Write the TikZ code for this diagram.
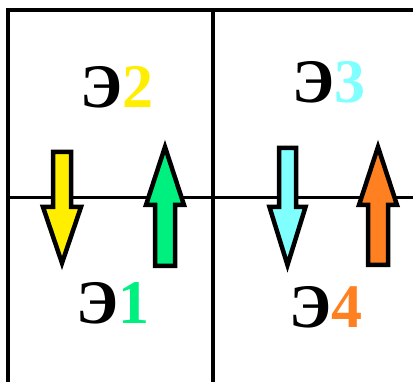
\documentclass[tikz,border=0pt]{standalone}
\usepackage{fontspec}
\setmainfont{Liberation Serif}
\definecolor{cyel}{HTML}{FFEE00}
\definecolor{cgreen}{HTML}{00F080}
\definecolor{ccyan}{HTML}{80FFFF}
\definecolor{corange}{HTML}{FF8020}
\tikzset{
  grid/.style={line width=4pt},
  arrowshape/.style={draw=black,line width=4.5pt,line join=miter},
  lbl/.style={font=\bfseries\fontsize{62}{62}\selectfont,inner sep=0pt}
}
% #1 x centre, #2 shaft end y, #3 head base y, #4 tip y, #5 shaft half, #6 head half, #7 colour
\newcommand\vertarrow[7]{%
  \filldraw[arrowshape,fill=#7]
    (#1-#5,#2) -- (#1-#5,#3) -- (#1-#6,#3) -- (#1,#4) -- (#1+#6,#3)
    -- (#1+#5,#3) -- (#1+#5,#2) -- cycle;}
\begin{document}
\begin{tikzpicture}[x=1pt,y=-1pt]
\useasboundingbox (0,0) rectangle (413,382);
\fill[white] (0,0) rectangle (413,382);
\draw[grid] (8,382) -- (8,10) -- (413,10);
\draw[grid] (213,10) -- (213,382);
\draw[line width=3pt] (8,198) -- (413,198);
\vertarrow{62}{152}{207}{263}{9}{19}{cyel}
\vertarrow{165}{266}{205}{147}{10}{19}{cgreen}
\vertarrow{287.5}{148}{207}{265}{8.5}{18}{ccyan}
\vertarrow{378}{265}{205}{147}{10}{19}{corange}
\node[lbl] (e2) at (117,87) {Э\textcolor{cyel}{2}};
\node[lbl] (e3) at (329,82) {Э\textcolor{ccyan}{3}};
\node[lbl] (e1) at (113,303) {Э\textcolor{cgreen}{1}};
\node[lbl] (e4) at (326,307) {Э\textcolor{corange}{4}};
\end{tikzpicture}
\end{document}
